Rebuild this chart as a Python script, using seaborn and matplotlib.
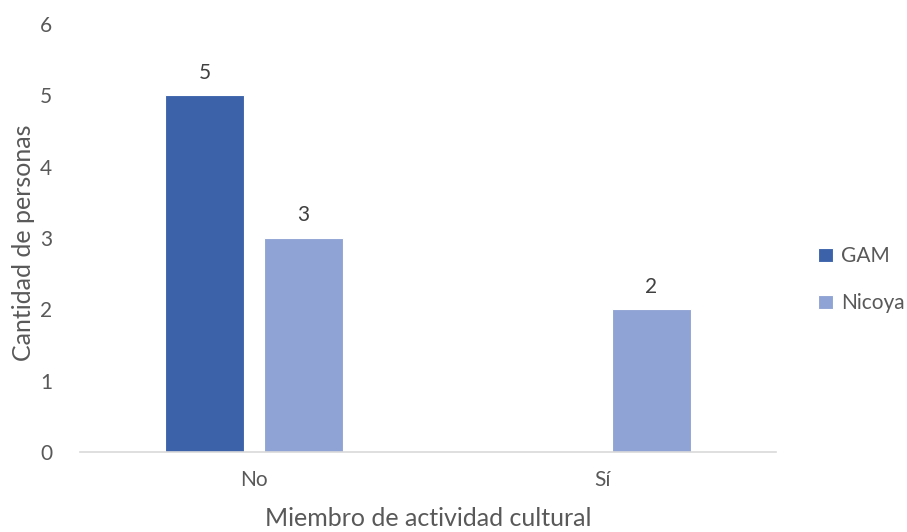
import matplotlib
matplotlib.use("Agg")
import matplotlib.pyplot as plt
import seaborn as sns
import pandas as pd

# Survey counts: membership in a cultural activity, by region
categories = ["No", "Sí"]
gam_values = [5, 0]
nicoya_values = [3, 2]
series_names = ["GAM", "Nicoya"]
y_ticks = [0, 1, 2, 3, 4, 5, 6]

df = pd.DataFrame({
    "Miembro": categories * 2,
    "Grupo": [series_names[0]] * len(categories) + [series_names[1]] * len(categories),
    "Cantidad": gam_values + nicoya_values,
})

sns.set_theme(style="white")
plt.rcParams["font.family"] = ["Lato", "DejaVu Sans"]

colors = {"GAM": "#3C63AA", "Nicoya": "#8FA4D4"}
text_gray = "#595959"

fig = plt.figure(figsize=(9.07, 5.32), dpi=100)
ax = fig.add_axes([0.0882, 0.1504, 0.7674, 0.8045])

sns.barplot(data=df, x="Miembro", y="Cantidad", hue="Grupo", order=categories,
            hue_order=series_names, palette=colors, saturation=1,
            width=0.569, gap=0.2, edgecolor="white", linewidth=0.8,
            ax=ax, legend=True)

# Value labels above non-empty bars
for container in ax.containers:
    labels = [f"{int(v)}" if v > 0 else "" for v in container.datavalues]
    ax.bar_label(container, labels=labels, padding=9, fontsize=15, color="#404040")

ax.set_ylim(0, 6)
ax.set_yticks(y_ticks)
ax.set_xlim(-0.5, 1.5)
ax.tick_params(axis="both", length=0, labelsize=15, colors=text_gray)
ax.tick_params(axis="y", pad=20)
ax.tick_params(axis="x", pad=13)
ax.set_xlabel("Miembro de actividad cultural", fontsize=18, color=text_gray, labelpad=12)
ax.set_ylabel("Cantidad de personas", fontsize=18, color=text_gray)
ax.yaxis.set_label_coords(-0.064, 0.49)

for side in ["top", "right", "left"]:
    ax.spines[side].set_visible(False)
ax.spines["bottom"].set_color("#D9D9D9")
ax.spines["bottom"].set_linewidth(1.2)

handles, labels = ax.get_legend_handles_labels()
ax.legend(handles, labels, loc="center left", bbox_to_anchor=(0.902, 0.474),
          bbox_transform=fig.transFigure, frameon=False, fontsize=15,
          borderaxespad=0, borderpad=0,
          labelcolor=text_gray, handlelength=0.7, handleheight=0.7,
          handletextpad=0.4, labelspacing=1.3)

fig.savefig("out.png", dpi=100)
